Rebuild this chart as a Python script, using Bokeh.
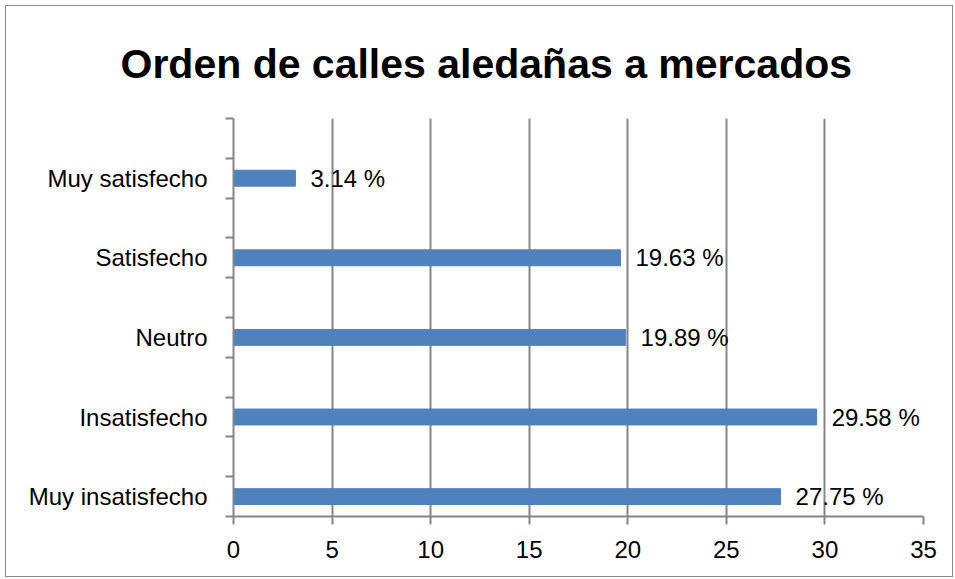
from bokeh.plotting import figure
from bokeh.models import FixedTicker, ColumnDataSource, Range1d
from bokeh.core.properties import value
from bokeh.embed import file_html
from bokeh.resources import INLINE

categories = ["Muy insatisfecho", "Insatisfecho", "Neutro", "Satisfecho", "Muy satisfecho"]
values = [27.75, 29.58, 19.89, 19.63, 3.14]
x_ticks = [0, 5, 10, 15, 20, 25, 30, 35]
title_text = "Orden de calles aledañas a mercados"

FONT = "Liberation Sans"
BAR = "#4F81BD"
GRID = "#868686"

ypos = [i + 0.25 for i in range(len(categories))]
labels = [f"{v:.2f} %" for v in values]
src = ColumnDataSource(dict(y=ypos, v=values, lab=labels))

p = figure(width=948, height=572, output_backend="svg", toolbar_location=None,
           x_range=Range1d(0, 35), y_range=Range1d(0, 5),
           min_border_left=227, min_border_right=31, min_border_top=112, min_border_bottom=62)
p.styles = {"border": "1px solid #878787", "box-sizing": "border-box",
            "margin-left": "5px", "margin-top": "5px"}
p.outline_line_color = None

p.title.text = title_text
p.title.text_font = FONT
p.title.text_font_style = "bold"
p.title.text_font_size = "41px"
p.title.text_color = "black"
p.title.align = "left"
p.title.offset = -113
p.title.standoff = 64

p.hbar(y="y", left=0, right="v", height=0.2, source=src, color=BAR)
p.text(x="v", y="y", text="lab", source=src, x_offset=15, text_baseline="middle",
       text_align="left", text_font=value(FONT), text_font_size="24px", text_color="black")

# x axis
p.xaxis.ticker = FixedTicker(ticks=x_ticks)
p.xaxis.major_tick_in = 0
p.xaxis.major_tick_out = 8
p.xaxis.minor_tick_out = 0
p.xaxis.axis_line_color = GRID
p.xaxis.major_tick_line_color = GRID
p.xaxis.axis_line_width = 2
p.xaxis.major_tick_line_width = 2
p.xaxis.major_label_text_font = FONT
p.xaxis.major_label_text_font_size = "24px"
p.xaxis.major_label_text_color = "black"
p.xaxis.major_label_standoff = 16

# y axis
p.yaxis.ticker = FixedTicker(ticks=ypos, minor_ticks=[i * 0.5 for i in range(11)])
p.yaxis.major_label_overrides = {y: c for y, c in zip(ypos, categories)}
p.yaxis.major_tick_in = 0
p.yaxis.major_tick_out = 0
p.yaxis.minor_tick_in = 0
p.yaxis.minor_tick_out = 8
p.yaxis.axis_line_color = GRID
p.yaxis.minor_tick_line_color = GRID
p.yaxis.axis_line_width = 2
p.yaxis.minor_tick_line_width = 2
p.yaxis.major_label_text_font = FONT
p.yaxis.major_label_text_font_size = "24px"
p.yaxis.major_label_text_color = "black"
p.yaxis.major_label_standoff = 18

p.xgrid.ticker = FixedTicker(ticks=x_ticks)
p.xgrid.grid_line_color = GRID
p.xgrid.grid_line_width = 2
p.ygrid.grid_line_color = None

open("out.html", "w").write(file_html(p, INLINE))
